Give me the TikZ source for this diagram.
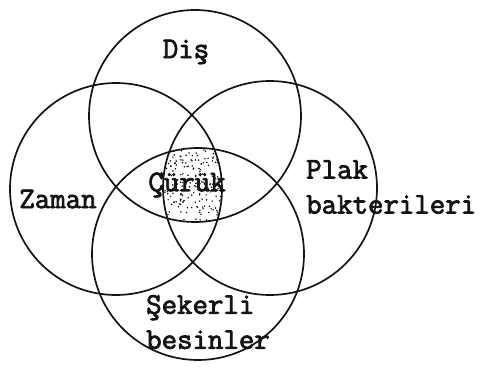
\documentclass[tikz,border=0pt]{standalone}
\usepackage{fontspec}
\newfontfamily\typewriter{Latin Modern Mono}[FakeBold=2.6]
\definecolor{VennInk}{HTML}{141414}
\tikzset{
  venn/.style={draw=VennInk,line width=1.7pt},
  vennlabel/.style={font=\typewriter\fontsize{30}{35}\selectfont,text=VennInk,inner sep=0pt},
}
\begin{document}
\begin{tikzpicture}[x=1pt,y=-1pt]
  \useasboundingbox (0,0) rectangle (486,371);
  % circle centres
  \coordinate (dis) at (195,116);
  \coordinate (zaman) at (116,189);
  \coordinate (plak) at (270,188);
  \coordinate (seker) at (198,254);
  % stippled common part
  \begin{scope}
    \clip (dis) circle (106pt);
    \clip (zaman) circle (106pt);
    \clip (plak) circle (107pt);
    \clip (seker) circle (106pt);
    \pgfmathsetseed{11}
    \foreach \i in {1,...,260}{
      \pgfmathsetmacro{\px}{158+74*rnd}
      \pgfmathsetmacro{\py}{144+82*rnd}
      \fill[VennInk] (\px,\py) circle (0.85pt);
    }
  \end{scope}
  \draw[venn] (dis) circle (106pt);
  \draw[venn] (zaman) circle (106pt);
  \draw[venn] (plak) circle (107pt);
  \draw[venn] (seker) circle (106pt);
  % labels
  \node[vennlabel] (disl) at (186,52) {Diş};
  \node[vennlabel] (zamanl) at (58,199) {Zaman};
  \node[vennlabel] (curuk) at (187,185) {Çürük};
  \node[vennlabel,anchor=west,align=left] (plakl) at (306,187) {Plak\\bakterileri};
  \node[vennlabel,anchor=west,align=left] (sekerl) at (146,322) {Şekerli\\besinler};
\end{tikzpicture}
\end{document}
